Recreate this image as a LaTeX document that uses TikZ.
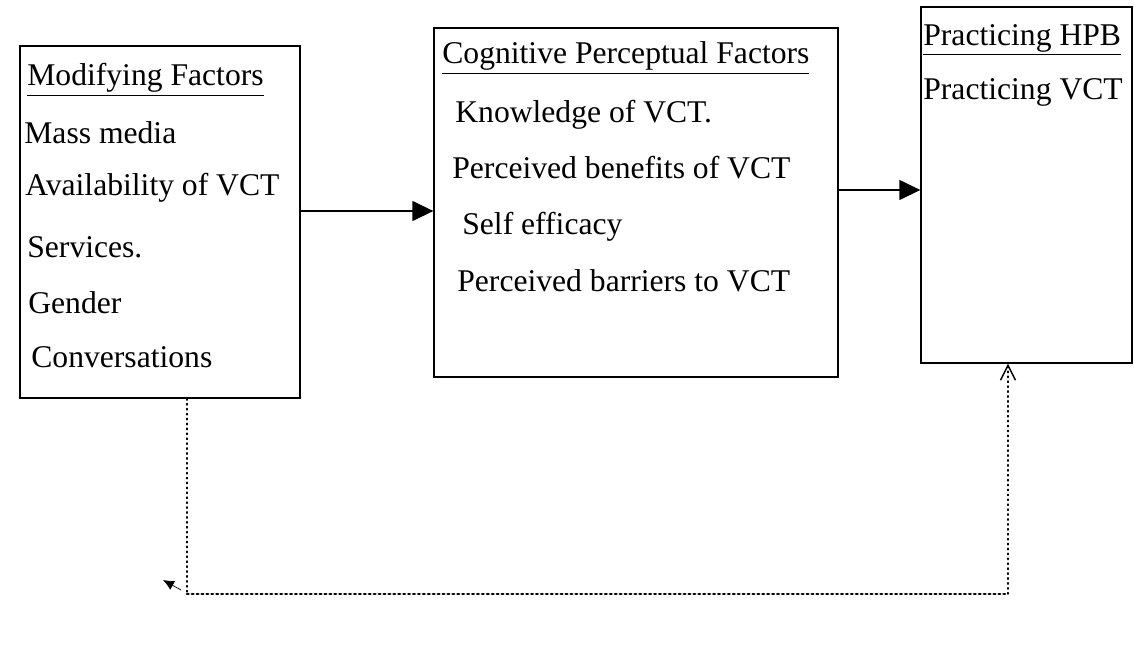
\documentclass[tikz,border=0pt]{standalone}
\usepackage{fontspec}
\setmainfont{Liberation Serif}
\usepackage{tikz}
\usetikzlibrary{positioning, calc, arrows.meta}

\tikzset{
  box/.style={draw, thick, inner sep=0pt},
  txt/.style={anchor=west, inner sep=0pt, font=\fontsize{18}{21}\selectfont},
  arr/.style={thick, -{Triangle[length=0.42cm, width=0.4cm]}},
  fb/.style={thick, dotted, line cap=round}
}

\begin{document}
\begin{tikzpicture}[x=0.02cm, y=-0.02cm]
                \useasboundingbox (0,0) rectangle (1134,649);

                % the three boxes
                \node[box, minimum width=5.6cm, minimum height=7.04cm] (mod) at (160,222) {};
                \node[box, minimum width=8.08cm, minimum height=6.98cm] (cog) at (636,202.5) {};
                \node[box, minimum width=4.22cm, minimum height=7.12cm] (hpb) at (1026.5,185) {};

                % modifying factors
                \node[txt] (modt) at (27,80) {\underline{Modifying Factors}};
                \node[txt] (mod1) at (24,133) {Mass media};
                \node[txt] (mod2) at (25,188) {Availability of VCT};
                \node[txt] (mod3) at (27,247) {Services.};
                \node[txt] (mod4) at (28,303) {Gender};
                \node[txt] (mod5) at (31,357) {Conversations};

                % cognitive perceptual factors
                \node[txt] (cogt) at (442,58) {\underline{Cognitive Perceptual Factors}};
                \node[txt] (cog1) at (455,115) {Knowledge of VCT.};
                \node[txt] (cog2) at (452,168) {Perceived benefits of VCT};
                \node[txt] (cog3) at (462,227) {Self efficacy};
                \node[txt] (cog4) at (457,281) {Perceived barriers to VCT};

                % practicing HPB
                \node[txt] (hpbt) at (923,40) {\underline{Practicing HPB}};
                \node[txt] (hpb1) at (923,92) {Practicing VCT};

                \draw[arr] (mod.east |- 0,211) -- (cog.west |- 0,211);
                \draw[arr] (cog.east |- 0,190) -- (hpb.west |- 0,190);

                % feedback loop
                \coordinate (fbl) at (187,594);
                \coordinate (fbr) at (1008,594);
                \draw[fb] (mod.south -| fbl) -- (fbl);
                \draw[fb, line width=1.6pt] (fbl) -- (fbr);
                \draw[fb, -{Straight Barb[length=0.3cm, width=0.3cm]}] (fbr) -- (hpb.south -| fbr);
                \draw[thin, -{Latex[length=0.22cm, width=0.2cm]}] ($(fbl)+(-6,-4)$) -- ++(-18,-10);
\end{tikzpicture}
\end{document}
